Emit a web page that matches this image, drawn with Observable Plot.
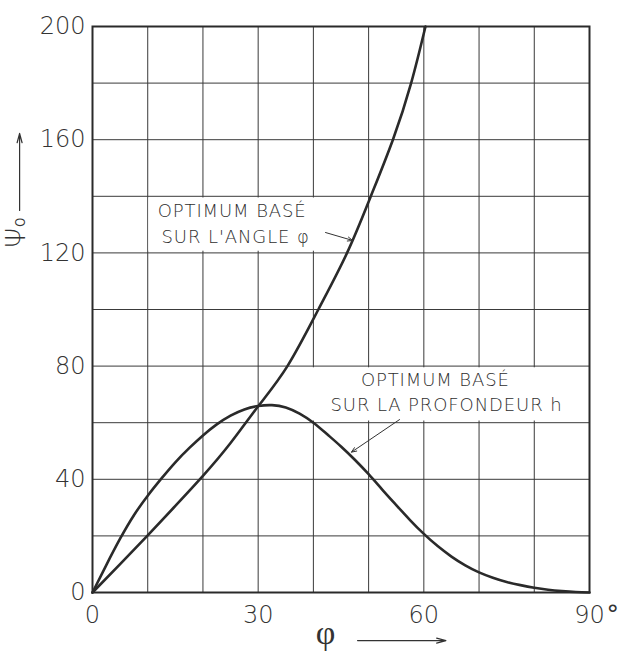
<!DOCTYPE html>
<html>
<head>
<meta charset="utf-8">
<script src="https://cdn.jsdelivr.net/npm/d3@7"></script>
<script src="https://cdn.jsdelivr.net/npm/@observablehq/plot@0.6"></script>
<style>
  body { margin: 0; background: #fff; }
  svg { display: block; }
</style>
</head>
<body>
<div id="chart"></div>
<script>
// Optimum based on the angle φ
const angleX = [0, 5, 10, 15, 20, 25, 30, 35.3, 40.9, 46.1, 50.4, 54.4, 57.7, 60.3];
const angleY = [0, 10, 20.2, 30.6, 41.2, 52.8, 65.8, 80, 100, 120, 140, 160, 180, 200];
// Optimum based on the depth h
const depthX = [0, 2.5, 5, 7.5, 10, 12.5, 15, 17.5, 20, 22.5, 25, 27.5, 30, 32.5, 35, 37.5, 40, 42.5, 45, 47.5, 50, 52.5, 55, 57.5, 60, 62.5, 65, 67.5, 70, 72.5, 75, 77.5, 80, 82.5, 85, 87.5, 90];
const depthY = [0, 9.7, 19, 27.3, 34.2, 40.3, 46, 51, 55.5, 59.4, 62.5, 64.7, 65.9, 66.2, 65.4, 63.2, 60, 55.9, 51.6, 46.9, 41.8, 36.3, 30.9, 25.6, 20.7, 16.4, 12.7, 9.6, 7.1, 5.2, 3.7, 2.6, 1.7, 1.0, 0.5, 0.15, 0];

const xTicks = [0, 30, 60, 90];
const yTicks = [0, 40, 80, 120, 160, 200];
const xGrid = [10, 20, 30, 40, 50, 60, 70, 80];
const yGrid = [20, 40, 60, 80, 100, 120, 140, 160, 180];

const labelAngle = ["OPTIMUM BASÉ", "SUR L'ANGLE φ"];
const labelDepth = ["OPTIMUM BASÉ", "SUR LA PROFONDEUR h"];
const xTitle = "φ";
const yTitle = "Ψ₀";

const angleData = angleX.map((x, i) => ({x, y: angleY[i]}));
const depthData = depthX.map((x, i) => ({x, y: depthY[i]}));

const ink = "#2a2a2a";
const font = "'DejaVu Sans', sans-serif";
const phiFont = "'Liberation Serif', serif";

const svg = Plot.plot({
  width: 619,
  height: 651,
  marginLeft: 92,
  marginRight: 30,
  marginTop: 26,
  marginBottom: 59,
  x: {domain: [0, 90]},
  y: {domain: [0, 200]},
  style: {fontFamily: font, fontSize: "24px", color: "#333", background: "#fff", overflow: "visible"},
  marks: [
    Plot.gridX(xGrid, {stroke: "#3a3a3a", strokeOpacity: 1, strokeWidth: 1}),
    Plot.gridY(yGrid, {stroke: "#3a3a3a", strokeOpacity: 1, strokeWidth: 1}),
    Plot.axisX({ticks: xTicks, tickSize: 0, tickPadding: 13, label: null, fontWeight: 200}),
    Plot.axisY({ticks: yTicks, tickSize: 0, tickPadding: 7, label: null, fontWeight: 200}),
    Plot.text(["°"], {x: 90, y: -7.8, dx: 17, textAnchor: "start", fontSize: 25, fill: "#333"}),
    // white label backgrounds
    Plot.rect([0], {x1: 10.2, x2: 46, y1: 120.6, y2: 139.4, fill: "white"}),
    Plot.rect([0], {x1: 37.5, x2: 89.8, y1: 60.6, y2: 79.4, fill: "white"}),
    Plot.line(angleData, {x: "x", y: "y", curve: "natural", stroke: ink, strokeWidth: 2.6}),
    Plot.line(depthData, {x: "x", y: "y", curve: "natural", stroke: ink, strokeWidth: 2.6}),
    Plot.frame({stroke: ink, strokeWidth: 2}),
    // labels
    Plot.text([labelAngle[0]], {x: 11.8, y: 134.6, textAnchor: "start", fontSize: 18, fill: "#2e2e2e", fontWeight: 200}),
    Plot.text([labelAngle[1]], {x: 12.5, y: 125.4, textAnchor: "start", fontSize: 18, fill: "#2e2e2e", fontWeight: 200}),
    Plot.text([labelDepth[0]], {x: 48.6, y: 74.9, textAnchor: "start", fontSize: 18, fill: "#2e2e2e", fontWeight: 200}),
    Plot.text([labelDepth[1]], {x: 43.1, y: 66.1, textAnchor: "start", fontSize: 18, fill: "#2e2e2e", fontWeight: 200}),
    Plot.arrow([0], {x1: 42.2, y1: 127.2, x2: 47.1, y2: 124.4, stroke: "#333", strokeWidth: 1, headLength: 8, headAngle: 45}),
    Plot.arrow([0], {x1: 55.6, y1: 61.1, x2: 46.9, y2: 49.6, stroke: "#333", strokeWidth: 1, headLength: 8, headAngle: 45}),
    // axis titles
    Plot.text([xTitle], {x: 42.2, y: -14.5, fontSize: 34, fill: "#333", fontFamily: phiFont}),
    Plot.arrow([0], {x1: 48, y1: -17, x2: 64, y2: -17, stroke: "#333", strokeWidth: 1.2, headLength: 12, headAngle: 30}),
    Plot.text([yTitle], {x: -13.7, y: 127.2, rotate: -90, fontSize: 26, fill: "#333", fontWeight: 200}),
    Plot.arrow([0], {x1: -13.2, y1: 135, x2: -13.2, y2: 162.2, stroke: "#333", strokeWidth: 1.2, headLength: 12, headAngle: 30})
  ]
});

const labelLines = [...labelAngle, ...labelDepth];
d3.select(svg).selectAll("text")
  .filter(function() { return labelLines.includes(this.textContent); })
  .attr("letter-spacing", "0.9");

document.getElementById("chart").appendChild(svg);
</script>
</body>
</html>
